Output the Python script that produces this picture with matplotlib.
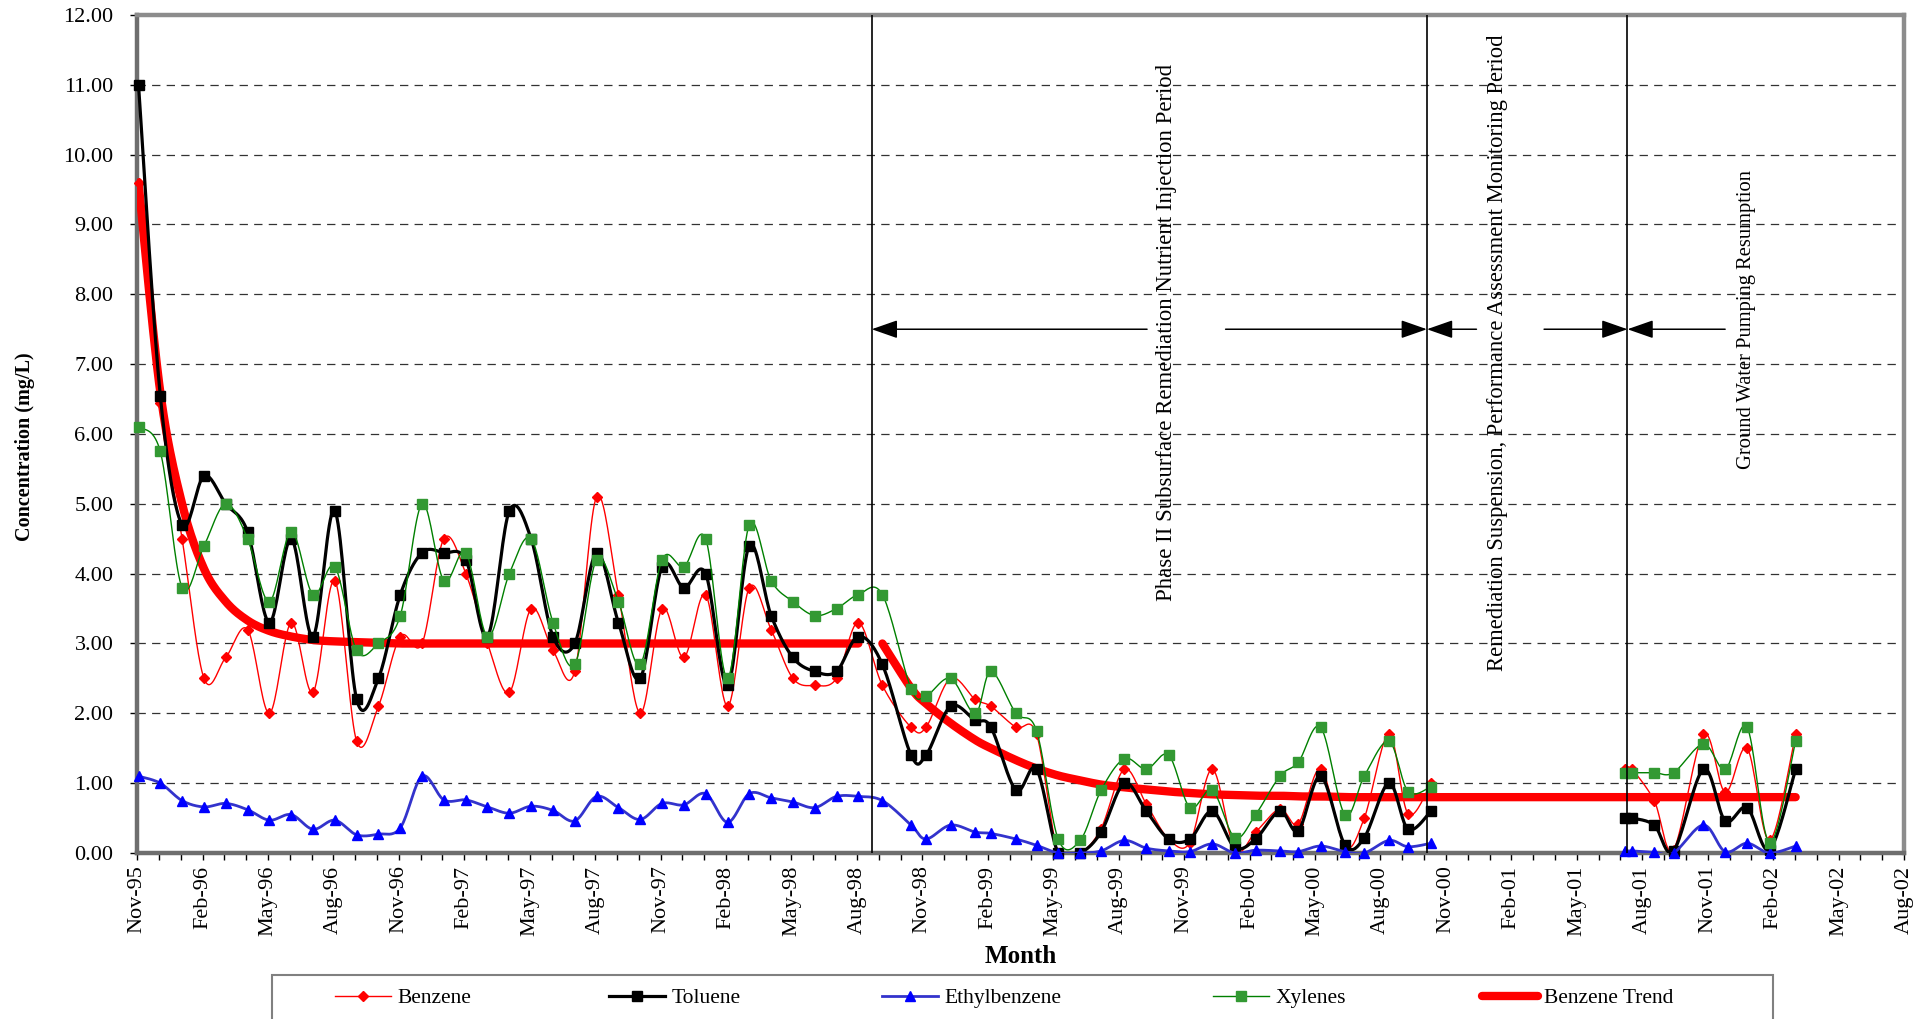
import matplotlib
matplotlib.use("Agg")
import matplotlib.pyplot as plt
import numpy as np
import pandas as pd
from matplotlib.lines import Line2D
from matplotlib.patches import Rectangle

plt.rcParams["font.family"] = ["Liberation Serif", "DejaVu Serif"]
plt.rcParams["lines.scale_dashes"] = False

# sampling dates (monthly until Aug-98, irregular afterwards)
sample_dates = [
    "1995-11-03", "1995-12-03",
    "1996-01-03", "1996-02-03", "1996-03-03", "1996-04-03", "1996-05-03", "1996-06-03",
    "1996-07-03", "1996-08-03", "1996-09-03", "1996-10-03", "1996-11-03", "1996-12-03",
    "1997-01-03", "1997-02-03", "1997-03-03", "1997-04-03", "1997-05-03", "1997-06-03",
    "1997-07-03", "1997-08-03", "1997-09-03", "1997-10-03", "1997-11-03", "1997-12-03",
    "1998-01-03", "1998-02-03", "1998-03-03", "1998-04-03", "1998-05-03", "1998-06-03",
    "1998-07-03", "1998-08-03",
    "1998-09-06", "1998-10-16", "1998-11-06", "1998-12-10", "1999-01-14", "1999-02-05",
    "1999-03-10", "1999-04-08", "1999-05-08", "1999-06-08", "1999-07-07", "1999-08-09",
    "1999-09-09", "1999-10-10", "1999-11-09", "1999-12-10", "2000-01-11", "2000-02-09",
    "2000-03-13", "2000-04-08", "2000-05-09", "2000-06-12", "2000-07-09", "2000-08-13",
    "2000-09-09", "2000-10-11",
    "2001-07-07", "2001-07-17", "2001-08-18", "2001-09-14", "2001-10-26", "2001-11-25",
    "2001-12-26", "2002-01-27", "2002-03-02",
]

benzene = [
    9.6, 6.45, 4.5, 2.5, 2.8, 3.2, 2.0, 3.3, 2.3, 3.9, 1.6, 2.1, 3.1, 3.0, 4.5, 4.0, 3.0,
    2.3, 3.5, 2.9, 2.6, 5.1, 3.7, 2.0, 3.5, 2.8, 3.7, 2.1, 3.8, 3.2, 2.5, 2.4, 2.5, 3.3,
    2.4, 1.8, 1.8, 2.5, 2.2, 2.1, 1.8, 1.7, 0.0, 0.0, 0.35, 1.2, 0.7, 0.2, 0.15, 1.2,
    0.05, 0.3, 0.63, 0.42, 1.2, 0.1, 0.5, 1.7, 0.56, 1.0,
    1.2, 1.2, 0.75, 0.05, 1.7, 0.87, 1.5, 0.18, 1.7,
]
toluene = [
    11.0, 6.55, 4.7, 5.4, 5.0, 4.6, 3.3, 4.5, 3.1, 4.9, 2.2, 2.5, 3.7, 4.3, 4.3, 4.2, 3.1,
    4.9, 4.5, 3.1, 3.0, 4.3, 3.3, 2.5, 4.1, 3.8, 4.0, 2.4, 4.4, 3.4, 2.8, 2.6, 2.6, 3.1,
    2.7, 1.4, 1.4, 2.1, 1.9, 1.8, 0.9, 1.2, 0.0, 0.0, 0.3, 1.0, 0.6, 0.2, 0.2, 0.6,
    0.08, 0.2, 0.6, 0.32, 1.1, 0.12, 0.22, 1.0, 0.34, 0.6,
    0.5, 0.5, 0.4, 0.03, 1.2, 0.46, 0.65, 0.05, 1.2,
]
ethylbenzene = [
    1.1, 1.0, 0.75, 0.66, 0.71, 0.62, 0.47, 0.55, 0.34, 0.47, 0.26, 0.27, 0.36, 1.1, 0.76,
    0.76, 0.66, 0.57, 0.67, 0.61, 0.46, 0.81, 0.65, 0.48, 0.71, 0.69, 0.85, 0.44, 0.85,
    0.79, 0.73, 0.65, 0.81, 0.81,
    0.75, 0.4, 0.2, 0.4, 0.3, 0.28, 0.2, 0.11, 0.0, 0.0, 0.03, 0.18, 0.07, 0.03, 0.02,
    0.13, 0.0, 0.04, 0.03, 0.02, 0.1, 0.02, 0.0, 0.18, 0.09, 0.14,
    0.03, 0.03, 0.01, 0.0, 0.4, 0.02, 0.14, 0.0, 0.1,
]
xylenes = [
    6.1, 5.75, 3.8, 4.4, 5.0, 4.5, 3.6, 4.6, 3.7, 4.1, 2.9, 3.0, 3.4, 5.0, 3.9, 4.3, 3.1,
    4.0, 4.5, 3.3, 2.7, 4.2, 3.6, 2.7, 4.2, 4.1, 4.5, 2.5, 4.7, 3.9, 3.6, 3.4, 3.5, 3.7,
    3.7, 2.35, 2.25, 2.5, 2.0, 2.6, 2.0, 1.75, 0.2, 0.18, 0.9, 1.35, 1.2, 1.4, 0.65, 0.9,
    0.22, 0.55, 1.1, 1.3, 1.8, 0.55, 1.1, 1.6, 0.88, 0.95,
    1.15, 1.15, 1.15, 1.15, 1.56, 1.2, 1.8, 0.15, 1.6,
]
benzene_trend = [
    9.6, 6.6, 5.0, 4.07, 3.6, 3.33, 3.18, 3.1, 3.05, 3.03, 3.02, 3.01,
    3.0, 3.0, 3.0, 3.0, 3.0, 3.0, 3.0, 3.0, 3.0, 3.0, 3.0, 3.0, 3.0, 3.0, 3.0, 3.0,
    3.0, 3.0, 3.0, 3.0, 3.0, 3.0,
    3.0, 2.36, 2.14, 1.86, 1.62, 1.5, 1.33, 1.21, 1.11, 1.04, 0.98, 0.94, 0.91, 0.88,
    0.86, 0.84, 0.83, 0.82, 0.82, 0.81, 0.81, 0.8, 0.8, 0.8, 0.8, 0.8,
    0.8, 0.8, 0.8, 0.8, 0.8, 0.8, 0.8, 0.8, 0.8,
]

event_dates = ["1998-08-22", "2000-10-05", "2001-07-11"]
event_labels = [
    "Phase II Subsurface Remediation Nutrient Injection Period",
    "Remediation Suspension, Performance Assessment Monitoring Period",
    "Ground Water Pumping Resumption",
]

tick_labels = [
    "Nov-95", "Feb-96", "May-96", "Aug-96", "Nov-96", "Feb-97", "May-97", "Aug-97",
    "Nov-97", "Feb-98", "May-98", "Aug-98", "Nov-98", "Feb-99", "May-99", "Aug-99",
    "Nov-99", "Feb-00", "May-00", "Aug-00", "Nov-00", "Feb-01", "May-01", "Aug-01",
    "Nov-01", "Feb-02", "May-02", "Aug-02",
]


def month_pos(d):
    """months since 1-Nov-1995, Excel-style monthly base unit"""
    d = pd.Timestamp(d)
    return (d.year - 1995) * 12 + d.month - 11 + (d.day - 1) / d.days_in_month


def smooth(x, y, n=20):
    # Excel "smoothed line": Bezier through the points (Catmull-Rom controls)
    P = np.column_stack([x, y]).astype(float)
    if len(P) < 3:
        return P[:, 0], P[:, 1]
    Q = np.vstack([P[0], P, P[-1]])
    t = np.linspace(0, 1, n, endpoint=False)[:, None]
    out = []
    for i in range(len(P) - 1):
        p0, p1, p2, p3 = Q[i], Q[i + 1], Q[i + 2], Q[i + 3]
        c1 = p1 + (p2 - p0) / 6
        c2 = p2 - (p3 - p1) / 6
        out.append((1 - t) ** 3 * p1 + 3 * (1 - t) ** 2 * t * c1
                   + 3 * (1 - t) * t ** 2 * c2 + t ** 3 * p2)
    out.append(P[-1][None])
    S = np.vstack(out)
    return S[:, 0], S[:, 1]


def split_gaps(x, y, gap=3.0):
    x = np.asarray(x); y = np.asarray(y)
    cuts = np.where(np.diff(x) > gap)[0] + 1
    return zip(np.split(x, cuts), np.split(y, cuts))


x = np.array([month_pos(d) for d in sample_dates])
ev = [month_pos(d) for d in event_dates]

fig = plt.figure(figsize=(19.25, 10.19), dpi=100)
ax = fig.add_axes([0.0712, 0.1629, 0.9179, 0.8224])

# benzene trend, broken at start of phase II
tr = np.array(benzene_trend)
for m in (x < ev[0], x >= ev[0]):
    sx, sy = smooth(x[m], tr[m])
    ax.plot(sx, sy, color="#ff0000", lw=6.0, solid_capstyle="round", zorder=3)

styles = [
    (benzene, dict(color="#ff0000", lw=1.0), dict(marker="D", ms=5, color="#ff0000")),
    (toluene, dict(color="black", lw=2.3), dict(marker="s", ms=7, color="black")),
    (ethylbenzene, dict(color="#3333cc", lw=2.0), dict(marker="^", ms=7.5, color="#0000ff")),
    (xylenes, dict(color="#008000", lw=1.0), dict(marker="s", ms=7.5, color="#339933")),
]
for k, (vals, lkw, mkw) in enumerate(styles):
    for sx, sy in split_gaps(x, vals):
        cx, cy = smooth(sx, sy)
        ax.plot(cx, cy, zorder=4 + k, **lkw)
    ax.plot(x, vals, ls="none", mec=mkw["color"], mfc=mkw["color"], marker=mkw["marker"],
            ms=mkw["ms"], zorder=4.5 + k, clip_on=False)

# period markers
for e in ev:
    ax.plot([e, e], [0, 12], color="black", lw=1.2, zorder=8)

arr = dict(arrowstyle="-|>,head_length=0.8,head_width=0.28", color="black", lw=1.1,
           mutation_scale=20, shrinkA=0, shrinkB=0)
ay = 7.5
for xt, xh in [(46.3, ev[0]), (49.9, ev[1]), (61.4, ev[1]), (64.5, ev[2]), (72.8, ev[2])]:
    ax.annotate("", xy=(xh, ay), xytext=(xt, ay), arrowprops=arr, zorder=9)

ax.text(47.2, 7.46, event_labels[0], rotation=90, ha="center", va="center", fontsize=16.4)
ax.text(62.35, 7.16, event_labels[1], rotation=90, ha="center", va="center", fontsize=16.3)
ax.text(73.8, 7.64, event_labels[2], rotation=90, ha="center", va="center", fontsize=14.8)

# axes
ax.set_xlim(0, 81)
ax.set_ylim(0, 12)
ax.set_yticks(range(0, 13))
ax.set_yticklabels([f"{v:.2f}" for v in range(0, 13)], fontsize=16)
ax.set_xticks(range(0, 82, 3))
ax.set_xticklabels(tick_labels, rotation=90, fontsize=16)
ax.set_xticks(range(0, 82), minor=True)
ax.tick_params(axis="both", which="both", direction="out", length=5, width=1, color="black")
ax.tick_params(axis="x", which="major", pad=4)
ax.tick_params(axis="y", which="major", pad=12)

for v in range(1, 12):
    ax.axhline(v, color="#333333", lw=0.9, dashes=(6, 4.5), zorder=1)

for side in ("left", "bottom"):
    ax.spines[side].set_color("#6e6e6e")
    ax.spines[side].set_linewidth(3.2)
for side in ("top", "right"):
    ax.spines[side].set_color("#8c8c8c")
    ax.spines[side].set_linewidth(3.2)

ax.set_ylabel("Concentration (mg/L)", fontsize=14.5, fontweight="bold")
ax.yaxis.set_label_coords(-0.058, 0.485)
ax.set_xlabel("Month", fontsize=18, fontweight="bold")
ax.xaxis.set_label_coords(0.5, -0.11)

# legend: one entry per slot so the spacing follows the original layout
handles = [
    Line2D([], [], color="#ff0000", lw=1.0, marker="D", ms=5),
    Line2D([], [], color="black", lw=2.3, marker="s", ms=7),
    Line2D([], [], color="#3333cc", lw=2.0, marker="^", ms=7.5, mfc="#0000ff", mec="#0000ff"),
    Line2D([], [], color="#008000", lw=1.0, marker="s", ms=7.5, mfc="#339933", mec="#339933"),
    Line2D([], [], color="#ff0000", lw=6.0, solid_capstyle="round"),
]
labels = ["Benzene", "Toluene", "Ethylbenzene", "Xylenes", "Benzene Trend"]
slots = [0.174, 0.3164, 0.4582, 0.6301, 0.7699]
for h, lab, sx in zip(handles, labels, slots):
    fig.legend([h], [lab], loc="center left", bbox_to_anchor=(sx, 0.0206), frameon=False,
               fontsize=15.5, handlelength=2.6, handletextpad=0.3, borderpad=0,
               borderaxespad=0)
fig.patches.append(Rectangle((0.1413, -0.01), 0.7797, 0.0532, transform=fig.transFigure,
                             fill=False, edgecolor="#808080", lw=1.5))

fig.savefig("out.png", dpi=100)
